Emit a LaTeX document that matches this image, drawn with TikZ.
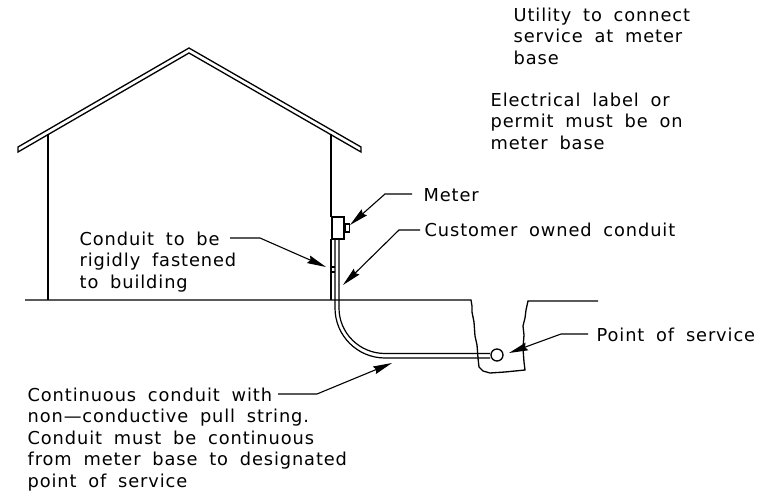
\documentclass[tikz,border=0pt]{standalone}
\usepackage{fontspec}
\setmainfont{DejaVu Sans}[LetterSpace=5,WordSpace=1.8]
\usetikzlibrary{arrows.meta}
\begin{document}
\begin{tikzpicture}[x=1pt,y=-1pt,line width=1.3pt,line join=miter]
    \tikzstyle{leader}=[line width=1.1pt,-{Stealth[length=19pt,width=8pt,inset=2pt]}]
    \tikzstyle{thin wall}=[line width=1.2pt]
    \tikzstyle{note}=[anchor=north west,inner sep=0pt,align=left,font=\fontsize{17.8}{21.5}\selectfont]
    \useasboundingbox (0,0) rectangle (772,492);

    % Draw the house
    \draw (18,152) -- (18,147) -- (189,48) -- (361,147) -- (361,152) -- (189,53) -- cycle;
    \draw[thin wall] (48,134) -- (48,300);
    \draw[thin wall] (331,134) -- (331,217);
    \draw[thin wall] (331,239) -- (331,300);

    % Draw the ground and the trench
    \draw (25,300) -- (471,300) -- (472,306) -- (472,312) -- (474,322) -- (475,336) -- (477,345)
        -- (478,358) -- (479,367) -- (483,371) -- (490,373) -- (505,372) -- (525,370)
        -- (524,362) -- (523,348) -- (524,335) -- (523,326) -- (525,318) -- (526,310) -- (528,301) -- (598,301);

    % Draw the meter
    \node[draw,fill=white,minimum width=12pt,minimum height=22pt,inner sep=0pt] (meter) at (338,228) {};
    \node[draw,fill=white,minimum width=4pt,minimum height=8pt,inner sep=0pt,anchor=west] (nub) at (meter.east) {};

    % Draw the conduit
    \node[draw,circle,fill=white,minimum size=12pt,inner sep=0pt] (P) at (497,355) {};
    \coordinate (C-1) at (335,239);
    \coordinate (C-2) at (339,239);
    \coordinate (D-1) at (490,358);
    \coordinate (D-2) at (490,353.5);
    \draw[thin wall] (C-1) -- (335,308) arc[start angle=180,end angle=90,radius=50] -- (D-1);
    \draw[thin wall] (C-2) -- (339,308) arc[start angle=180,end angle=90,x radius=46,y radius=45.5] -- (D-2);
    \draw[thin wall] (331,267) -- (335,267);
    \draw[thin wall] (331,272) -- (335,272);

    % Annotate the drawing
    \node[note] (utility) at (513,7) {Utility to connect\\service at meter\\base};
    \node[note] (label) at (490,92) {Electrical label or\\permit must be on\\meter base};
    \node[note] (fasten) at (79,231) {Conduit to be\\rigidly fastened\\to building};
    \node[note] (mtr) at (423,188) {Meter};
    \node[note] (owned) at (424,222) {Customer owned conduit};
    \node[note] (service) at (596,327) {Point of service};
    \node[note] (cont) at (27,387) {Continuous conduit with\\non---conductive pull string.\\Conduit must be continuous\\from meter base to designated\\point of service};

    % Connect every note with what it points to
    \coordinate (A-1) at (412,194);
    \coordinate (A-2) at (420,230);
    \coordinate (A-3) at (230,238);
    \coordinate (A-4) at (588,334);
    \coordinate (A-5) at (278,394);
    \coordinate (T-1) at (350,225);
    \coordinate (T-2) at (343,285);
    \coordinate (T-3) at (326,267);
    \coordinate (T-4) at (509,353);
    \coordinate (T-5) at (392,363);
    \draw[leader] (A-1) -- ++(-27,0) -- (T-1);
    \draw[leader] (A-2) -- ++(-21,0) -- (T-2);
    \draw[leader] (A-3) -- ++(30,0) -- (T-3);
    \draw[leader] (A-4) -- ++(-27,0) -- (T-4);
    \draw[leader] (A-5) -- ++(39,0) -- (T-5);
\end{tikzpicture}
\end{document}
